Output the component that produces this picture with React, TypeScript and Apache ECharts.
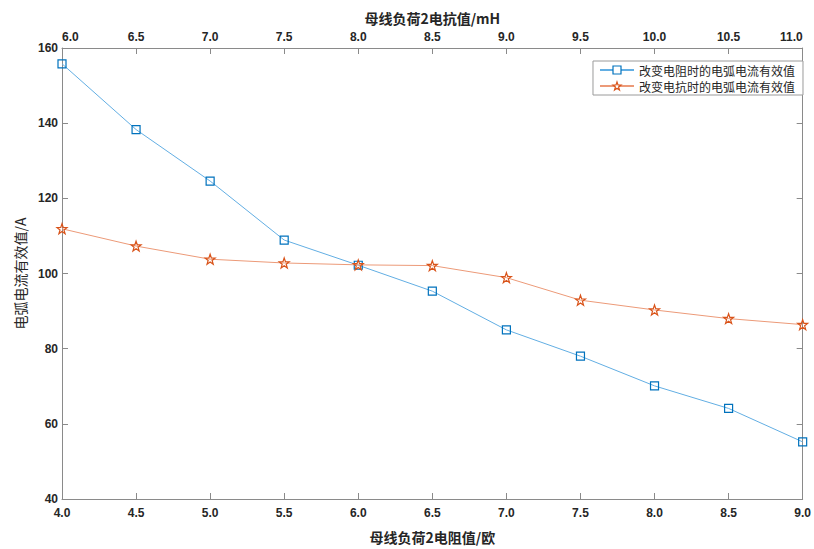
import React, { useEffect, useRef } from "react";
import * as echarts from "echarts";

const resistance = [4.0, 4.5, 5.0, 5.5, 6.0, 6.5, 7.0, 7.5, 8.0, 8.5, 9.0];
const currentByResistance = [155.8, 138.3, 124.6, 108.9, 102.2, 95.3, 85.0, 78.0, 70.1, 64.1, 55.2];
const currentByReactance = [111.9, 107.3, 103.8, 102.8, 102.3, 102.1, 98.9, 92.9, 90.3, 88.0, 86.4];
const seriesNames = ["改变电阻时的电弧电流有效值", "改变电抗时的电弧电流有效值"];

function starPath(): string {
  const pts: string[] = [];
  for (let i = 0; i < 10; i++) {
    const r = i % 2 === 0 ? 10 : 4;
    const a = -Math.PI / 2 + (i * Math.PI) / 5;
    pts.push(`${(10 + r * Math.cos(a)).toFixed(3)} ${(10 + r * Math.sin(a)).toFixed(3)}`);
  }
  return "path://M" + pts.join(" L") + " Z";
}

export default function App() {
  const ref = useRef<HTMLDivElement>(null);
  useEffect(() => {
    if (!ref.current) return;
    const chart = echarts.init(ref.current, null, { renderer: "svg" });
    const axisColor = "#8a8a8a";
    const labelStyle = { color: "#262626", fontSize: 12, fontWeight: "bold" as const, fontFamily: "Liberation Sans, Arial, sans-serif" };
    const nameFont = "Noto Sans CJK SC, sans-serif";
    const star = starPath();
    chart.setOption({
      animation: false,
      backgroundColor: "#ffffff",
      grid: { left: 62, right: 11, top: 48, bottom: 42 },
      legend: {
        orient: "vertical",
        right: 11,
        top: 61,
        backgroundColor: "#ffffff",
        borderColor: "#9a9a9a",
        borderWidth: 1,
        padding: [3, 8, 3, 6],
        itemGap: 4,
        itemWidth: 34,
        itemHeight: 10,
        textStyle: { color: "#262626", fontSize: 12, fontFamily: nameFont },
        data: [
          { name: seriesNames[0], itemStyle: { color: "#ffffff", borderColor: "#0072BD", borderWidth: 1.2 } },
          { name: seriesNames[1], itemStyle: { color: "#ffffff", borderColor: "#D95319", borderWidth: 1.2 } },
        ],
      },
      xAxis: [
        {
          type: "value",
          position: "bottom",
          min: 4,
          max: 9,
          interval: 0.5,
          name: "母线负荷2电阻值/欧",
          nameLocation: "middle",
          nameGap: 31,
          nameTextStyle: { color: "#262626", fontSize: 14, fontWeight: "bold", fontFamily: nameFont },
          axisLine: { show: true, lineStyle: { color: axisColor } },
          axisTick: { show: true, inside: true, length: 6, lineStyle: { color: axisColor } },
          axisLabel: { ...labelStyle, margin: 8, formatter: (v: number) => v.toFixed(1) },
          splitLine: { show: false },
        },
        {
          type: "value",
          position: "top",
          min: 6,
          max: 11,
          interval: 0.5,
          name: "母线负荷2电抗值/mH",
          nameLocation: "middle",
          nameGap: 23,
          nameTextStyle: { color: "#262626", fontSize: 14, fontWeight: "bold", fontFamily: nameFont },
          axisLine: { show: true, lineStyle: { color: axisColor } },
          axisTick: { show: true, inside: true, length: 6, lineStyle: { color: axisColor } },
          axisLabel: { ...labelStyle, margin: 5, formatter: (v: number) => v.toFixed(1), alignMinLabel: "left", alignMaxLabel: "right" },
          splitLine: { show: false },
        },
      ],
      yAxis: [
        {
          type: "value",
          position: "left",
          min: 40,
          max: 160,
          interval: 20,
          name: "电弧电流有效值/A",
          nameLocation: "middle",
          nameGap: 33,
          nameTextStyle: { color: "#262626", fontSize: 14, fontFamily: nameFont },
          axisLine: { show: true, lineStyle: { color: axisColor } },
          axisTick: { show: true, inside: true, length: 6, lineStyle: { color: axisColor } },
          axisLabel: { ...labelStyle, margin: 4 },
          splitLine: { show: false },
        },
        {
          type: "value",
          position: "right",
          min: 40,
          max: 160,
          interval: 20,
          axisLine: { show: true, lineStyle: { color: axisColor } },
          axisTick: { show: true, inside: true, length: 6, lineStyle: { color: axisColor } },
          axisLabel: { show: false },
          splitLine: { show: false },
        },
      ],
      series: [
        {
          name: seriesNames[0],
          type: "line",
          xAxisIndex: 0,
          yAxisIndex: 0,
          data: resistance.map((x, i) => [x, currentByResistance[i]]),
          symbol: "rect",
          symbolSize: 8,
          showAllSymbol: true,
          lineStyle: { color: "#62aee3", width: 1 },
          itemStyle: { color: "rgba(255,255,255,0)", borderColor: "#0072BD", borderWidth: 1.2 },
          z: 3,
        },
        {
          name: seriesNames[1],
          type: "line",
          xAxisIndex: 0,
          yAxisIndex: 0,
          data: resistance.map((x, i) => [x, currentByReactance[i]]),
          symbol: star,
          symbolSize: 10,
          showAllSymbol: true,
          lineStyle: { color: "#ec9a78", width: 1 },
          itemStyle: { color: "rgba(255,255,255,0)", borderColor: "#D95319", borderWidth: 1.2 },
          z: 4,
        },
      ],
    });
    return () => chart.dispose();
  }, []);
  return <div ref={ref} style={{ width: 814, height: 549, position: "absolute", left: 0, top: 0 }} />;
}
